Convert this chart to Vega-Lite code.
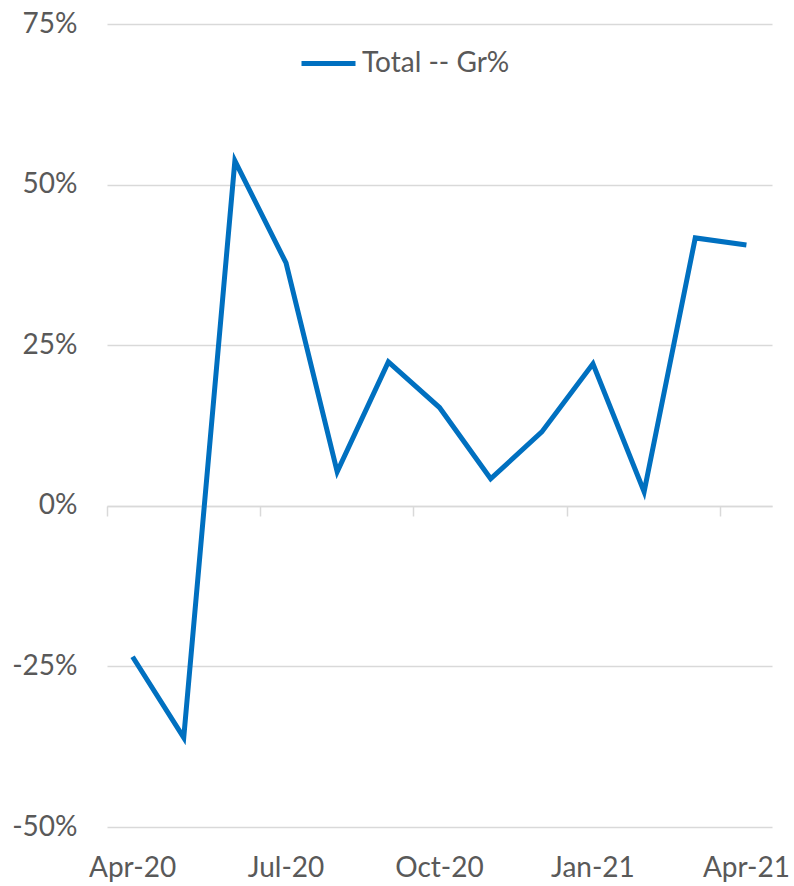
{
  "$schema": "https://vega.github.io/schema/vega-lite/v6.json",
  "width": 665,
  "height": 803,
  "autosize": "none",
  "padding": {"left": 107, "top": 24, "right": 22, "bottom": 59},
  "background": "white",
  "config": {
    "view": {"stroke": null},
    "font": "Lato",
    "axis": {"labelFont": "Lato", "labelFontSize": 28, "labelColor": "#595959"}
  },
  "data": {
    "values": [
      {"month": "Apr-20", "value": -23.5},
      {"month": "May-20", "value": -36.1},
      {"month": "Jun-20", "value": 53.7},
      {"month": "Jul-20", "value": 37.8},
      {"month": "Aug-20", "value": 5.3},
      {"month": "Sep-20", "value": 22.4},
      {"month": "Oct-20", "value": 15.3},
      {"month": "Nov-20", "value": 4.2},
      {"month": "Dec-20", "value": 11.5},
      {"month": "Jan-21", "value": 22.1},
      {"month": "Feb-21", "value": 2.2},
      {"month": "Mar-21", "value": 41.7},
      {"month": "Apr-21", "value": 40.6}
    ]
  },
  "layer": [
    {
      "mark": {"type": "line", "strokeWidth": 5, "strokeJoin": "miter"},
      "encoding": {
        "x": {
          "field": "month", "type": "ordinal", "sort": null, "bandPosition": 0.5,
          "scale": {"type": "band", "paddingInner": 0, "paddingOuter": 0},
          "axis": {
            "orient": "bottom", "offset": -321, "values": ["Apr-20", "Jul-20", "Oct-20", "Jan-21", "Apr-21"],
            "labels": false, "title": null, "bandPosition": 0,
            "domain": true, "domainColor": "#d9d9d9", "domainWidth": 1.5,
            "ticks": true, "tickColor": "#d9d9d9", "tickSize": 10, "tickWidth": 1.5, "grid": false
          }
        },
        "y": {
          "field": "value", "type": "quantitative",
          "scale": {"domain": [-50, 75], "nice": false, "zero": false},
          "axis": {
            "values": [-50, -25, 0, 25, 50, 75], "labelExpr": "datum.value + '%'",
            "title": null, "domain": false, "ticks": false, "labelPadding": 30,
            "grid": true, "gridColor": "#d9d9d9", "gridWidth": 1.5
          }
        },
        "color": {
          "datum": "Total -- Gr%", "type": "nominal",
          "scale": {"range": ["#0070C0"]},
          "legend": {
            "orient": "none", "legendX": 192, "legendY": 10, "title": null,
            "symbolType": "stroke", "symbolSize": 2916, "symbolStrokeWidth": 5,
            "labelFont": "Lato", "labelFontSize": 28, "labelColor": "#595959", "labelOffset": 4
          }
        }
      }
    },
    {
      "mark": {"type": "line", "opacity": 0},
      "encoding": {
        "x": {
          "field": "month", "type": "ordinal", "sort": null, "bandPosition": 0.5,
          "scale": {"type": "band", "paddingInner": 0, "paddingOuter": 0},
          "axis": {
            "orient": "bottom", "values": ["Apr-20", "Jul-20", "Oct-20", "Jan-21", "Apr-21"],
            "labelAngle": 0, "title": null, "domain": false, "ticks": false, "grid": false,
            "labelPadding": 27
          }
        },
        "y": {"field": "value", "type": "quantitative"}
      }
    }
  ],
  "resolve": {"axis": {"x": "independent"}}
}
